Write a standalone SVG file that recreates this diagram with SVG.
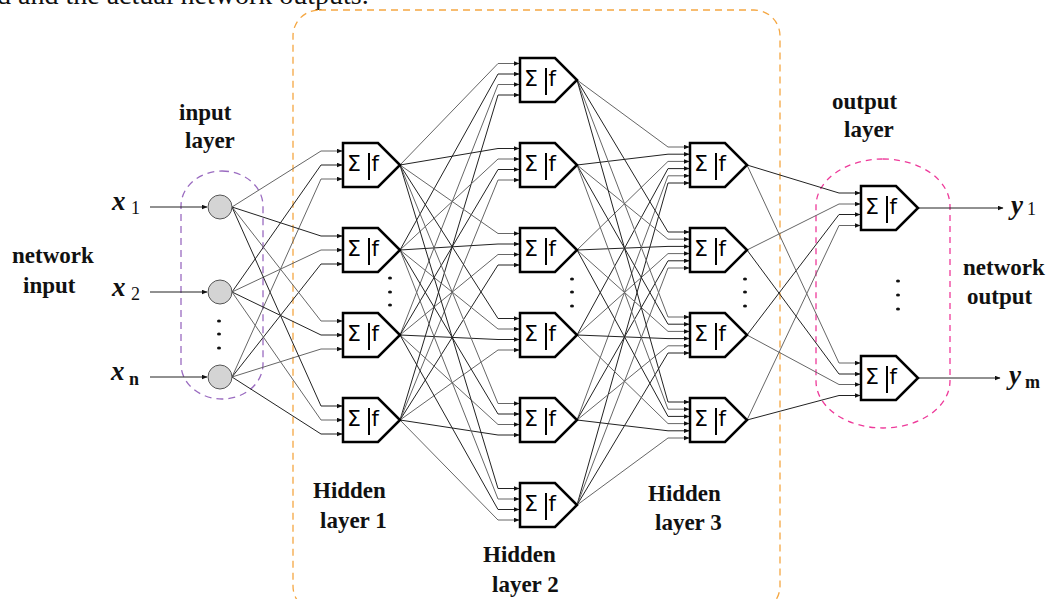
<svg xmlns="http://www.w3.org/2000/svg" xmlns:xlink="http://www.w3.org/1999/xlink" width="1053" height="599" viewBox="0 0 1053 599">
<style>
.lbl{font-family:"Liberation Serif","Times New Roman",serif;font-weight:bold;font-size:23px;fill:#111}
.var{font-family:"Liberation Serif","Times New Roman",serif;font-weight:bold;font-style:italic;font-size:27px;fill:#111}
.sub{font-family:"Liberation Serif","Times New Roman",serif;font-size:18px;fill:#111}
.subb{font-family:"Liberation Serif","Times New Roman",serif;font-weight:bold;font-size:18px;fill:#111}
.sym{font-family:"DejaVu Sans","Liberation Sans",sans-serif;font-size:21px;fill:#000}
.cn polyline,.cn line{fill:none;stroke-width:1;marker-end:url(#arr)}
.k{stroke:#222}
.g{stroke:#666}
.dot{fill:#111}
</style>
<defs>
<marker id="arr" markerWidth="6" markerHeight="5" refX="5" refY="2.25" orient="auto" markerUnits="userSpaceOnUse">
<path d="M0,0 L5.5,2.25 L0,4.5 z" fill="#111"/>
</marker>
<g id="neuron">
<polygon points="0,-22 35,-22 57,0 35,22 0,22" fill="#fff" stroke="#000" stroke-width="2.5" stroke-linejoin="miter"/>
<text class="sym" x="4" y="6" textLength="14" lengthAdjust="spacingAndGlyphs">Σ</text>
<line x1="26" y1="-12" x2="26" y2="15" stroke="#000" stroke-width="2"/>
<text class="sym" x="28.5" y="6">f</text>
</g>
</defs>
<rect width="1053" height="599" fill="#fff"/>
<text x="-3" y="4" font-family="'Liberation Serif','Times New Roman',serif" font-size="28" fill="#111">d and the actual network outputs.</text>

<g id="groups">
<rect id="hidden-box" x="293" y="10" width="487" height="602" rx="26" ry="26" fill="none" stroke="#f5a742" stroke-width="1.3" stroke-dasharray="7,5"/>
<rect id="input-box" x="181" y="171" width="82" height="228" rx="41" ry="35" fill="none" stroke="#9a6bc0" stroke-width="1.3" stroke-dasharray="7,5"/>
<rect id="output-box" x="816" y="159" width="134" height="269" rx="67" ry="47" fill="none" stroke="#ee3a9a" stroke-width="1.3" stroke-dasharray="6,5"/>
</g>

<g id="connectors" class="cn">
<line class="k" x1="150" y1="207" x2="207" y2="207"/>
<line class="k" x1="150" y1="292" x2="207" y2="292"/>
<line class="k" x1="150" y1="377" x2="207" y2="377"/>

<polyline class="g" points="232,207 321,151 342,151"/>
<polyline class="k" points="232,292 321,165 342,165"/>
<polyline class="g" points="232,377 321,179 342,179"/>
<polyline class="k" points="232,207 321,236 342,236"/>
<polyline class="g" points="232,292 321,250 342,250"/>
<polyline class="k" points="232,377 321,264 342,264"/>
<polyline class="g" points="232,207 321,321 342,321"/>
<polyline class="k" points="232,292 321,335 342,335"/>
<polyline class="g" points="232,377 321,349 342,349"/>
<polyline class="k" points="232,207 321,406 342,406"/>
<polyline class="g" points="232,292 321,420 342,420"/>
<polyline class="k" points="232,377 321,434 342,434"/>

<polyline class="g" points="400,165 498,63.5 519,63.5"/>
<polyline class="k" points="400,250 498,74 519,74"/>
<polyline class="g" points="400,335 498,84.5 519,84.5"/>
<polyline class="k" points="400,420 498,95 519,95"/>
<polyline class="k" points="400,165 498,148.5 519,148.5"/>
<polyline class="g" points="400,250 498,159 519,159"/>
<polyline class="k" points="400,335 498,169.5 519,169.5"/>
<polyline class="g" points="400,420 498,180 519,180"/>
<polyline class="g" points="400,165 498,233.5 519,233.5"/>
<polyline class="k" points="400,250 498,244 519,244"/>
<polyline class="g" points="400,335 498,254.5 519,254.5"/>
<polyline class="k" points="400,420 498,265 519,265"/>
<polyline class="k" points="400,165 498,318.5 519,318.5"/>
<polyline class="g" points="400,250 498,329 519,329"/>
<polyline class="k" points="400,335 498,339.5 519,339.5"/>
<polyline class="g" points="400,420 498,350 519,350"/>
<polyline class="g" points="400,165 498,403.5 519,403.5"/>
<polyline class="k" points="400,250 498,414 519,414"/>
<polyline class="g" points="400,335 498,424.5 519,424.5"/>
<polyline class="k" points="400,420 498,435 519,435"/>
<polyline class="k" points="400,165 498,488.5 519,488.5"/>
<polyline class="g" points="400,250 498,499 519,499"/>
<polyline class="k" points="400,335 498,509.5 519,509.5"/>
<polyline class="g" points="400,420 498,520 519,520"/>

<polyline class="g" points="577,80 668,147 689,147"/>
<polyline class="k" points="577,165 668,154.2 689,154.2"/>
<polyline class="g" points="577,250 668,161.4 689,161.4"/>
<polyline class="k" points="577,335 668,168.6 689,168.6"/>
<polyline class="g" points="577,420 668,175.8 689,175.8"/>
<polyline class="k" points="577,505 668,183 689,183"/>
<polyline class="k" points="577,80 668,232 689,232"/>
<polyline class="g" points="577,165 668,239.2 689,239.2"/>
<polyline class="k" points="577,250 668,246.4 689,246.4"/>
<polyline class="g" points="577,335 668,253.6 689,253.6"/>
<polyline class="k" points="577,420 668,260.8 689,260.8"/>
<polyline class="g" points="577,505 668,268 689,268"/>
<polyline class="g" points="577,80 668,317 689,317"/>
<polyline class="k" points="577,165 668,324.2 689,324.2"/>
<polyline class="g" points="577,250 668,331.4 689,331.4"/>
<polyline class="k" points="577,335 668,338.6 689,338.6"/>
<polyline class="g" points="577,420 668,345.8 689,345.8"/>
<polyline class="k" points="577,505 668,353 689,353"/>
<polyline class="k" points="577,80 668,402 689,402"/>
<polyline class="g" points="577,165 668,409.2 689,409.2"/>
<polyline class="k" points="577,250 668,416.4 689,416.4"/>
<polyline class="g" points="577,335 668,423.6 689,423.6"/>
<polyline class="k" points="577,420 668,430.8 689,430.8"/>
<polyline class="g" points="577,505 668,438 689,438"/>

<polyline class="k" points="747,165 839,193 860,193"/>
<polyline class="g" points="747,250 839,204 860,204"/>
<polyline class="k" points="747,335 839,214.5 860,214.5"/>
<polyline class="g" points="747,420 839,225.5 860,225.5"/>
<polyline class="g" points="747,165 839,363 860,363"/>
<polyline class="k" points="747,250 839,374 860,374"/>
<polyline class="g" points="747,335 839,384.5 860,384.5"/>
<polyline class="k" points="747,420 839,395.5 860,395.5"/>

<line class="k" x1="918" y1="208" x2="1003" y2="208"/>
<line class="k" x1="918" y1="378" x2="1000" y2="378"/>
</g>

<g id="input-layer">
<circle id="in1" cx="220" cy="207" r="12" fill="#d4d4d4" stroke="#555" stroke-width="1"/>
<circle id="in2" cx="220" cy="292" r="12" fill="#d4d4d4" stroke="#555" stroke-width="1"/>
<circle id="in3" cx="220" cy="377" r="12" fill="#d4d4d4" stroke="#555" stroke-width="1"/>
<ellipse class="dot" cx="219" cy="321" rx="2" ry="1.5"/>
<ellipse class="dot" cx="219" cy="334" rx="2" ry="1.5"/>
<ellipse class="dot" cx="219" cy="348" rx="2" ry="1.5"/>
</g>

<g id="hidden-layer-1">
<use id="h1n1" xlink:href="#neuron" href="#neuron" transform="translate(343,165)"/>
<use id="h1n2" xlink:href="#neuron" href="#neuron" transform="translate(343,250)"/>
<use id="h1n3" xlink:href="#neuron" href="#neuron" transform="translate(343,335)"/>
<use id="h1n4" xlink:href="#neuron" href="#neuron" transform="translate(343,420)"/>
<ellipse class="dot" cx="390" cy="278" rx="2" ry="1.5"/>
<ellipse class="dot" cx="390" cy="292" rx="2" ry="1.5"/>
<ellipse class="dot" cx="390" cy="305" rx="2" ry="1.5"/>
</g>

<g id="hidden-layer-2">
<use id="h2n1" xlink:href="#neuron" href="#neuron" transform="translate(520,80)"/>
<use id="h2n2" xlink:href="#neuron" href="#neuron" transform="translate(520,165)"/>
<use id="h2n3" xlink:href="#neuron" href="#neuron" transform="translate(520,250)"/>
<use id="h2n4" xlink:href="#neuron" href="#neuron" transform="translate(520,335)"/>
<use id="h2n5" xlink:href="#neuron" href="#neuron" transform="translate(520,420)"/>
<use id="h2n6" xlink:href="#neuron" href="#neuron" transform="translate(520,505)"/>
<ellipse class="dot" cx="572" cy="279" rx="2" ry="1.5"/>
<ellipse class="dot" cx="572" cy="292" rx="2" ry="1.5"/>
<ellipse class="dot" cx="572" cy="306" rx="2" ry="1.5"/>
</g>

<g id="hidden-layer-3">
<use id="h3n1" xlink:href="#neuron" href="#neuron" transform="translate(690,165)"/>
<use id="h3n2" xlink:href="#neuron" href="#neuron" transform="translate(690,250)"/>
<use id="h3n3" xlink:href="#neuron" href="#neuron" transform="translate(690,335)"/>
<use id="h3n4" xlink:href="#neuron" href="#neuron" transform="translate(690,420)"/>
<ellipse class="dot" cx="745" cy="279" rx="2" ry="1.5"/>
<ellipse class="dot" cx="745" cy="292" rx="2" ry="1.5"/>
<ellipse class="dot" cx="745" cy="306" rx="2" ry="1.5"/>
</g>

<g id="output-layer">
<use id="out1" xlink:href="#neuron" href="#neuron" transform="translate(861,208)"/>
<use id="out2" xlink:href="#neuron" href="#neuron" transform="translate(861,378)"/>
<ellipse class="dot" cx="898" cy="281" rx="2" ry="1.5"/>
<ellipse class="dot" cx="898" cy="295" rx="2" ry="1.5"/>
<ellipse class="dot" cx="898" cy="309" rx="2" ry="1.5"/>
</g>

<g id="labels">
<text class="lbl" x="179" y="120">input</text>
<text class="lbl" x="185" y="148">layer</text>
<text class="lbl" x="12" y="263">network</text>
<text class="lbl" x="23" y="293">input</text>
<text class="lbl" x="313" y="498">Hidden</text>
<text class="lbl" x="320" y="528">layer 1</text>
<text class="lbl" x="483" y="562">Hidden</text>
<text class="lbl" x="492" y="592">layer 2</text>
<text class="lbl" x="648" y="501">Hidden</text>
<text class="lbl" x="655" y="530">layer 3</text>
<text class="lbl" x="832" y="109">output</text>
<text class="lbl" x="844" y="137">layer</text>
<text class="lbl" x="963" y="275">network</text>
<text class="lbl" x="967" y="304">output</text>

<text class="var" x="112" y="210">x</text><text class="sub" x="131" y="214">1</text>
<text class="var" x="112" y="296">x</text><text class="sub" x="131" y="300">2</text>
<text class="var" x="111" y="380">x</text><text class="subb" x="129" y="385">n</text>
<text class="var" x="1011" y="214">y</text><text class="sub" x="1027" y="215">1</text>
<text class="var" x="1009" y="384">y</text><text class="subb" x="1025" y="388">m</text>
</g>
</svg>
